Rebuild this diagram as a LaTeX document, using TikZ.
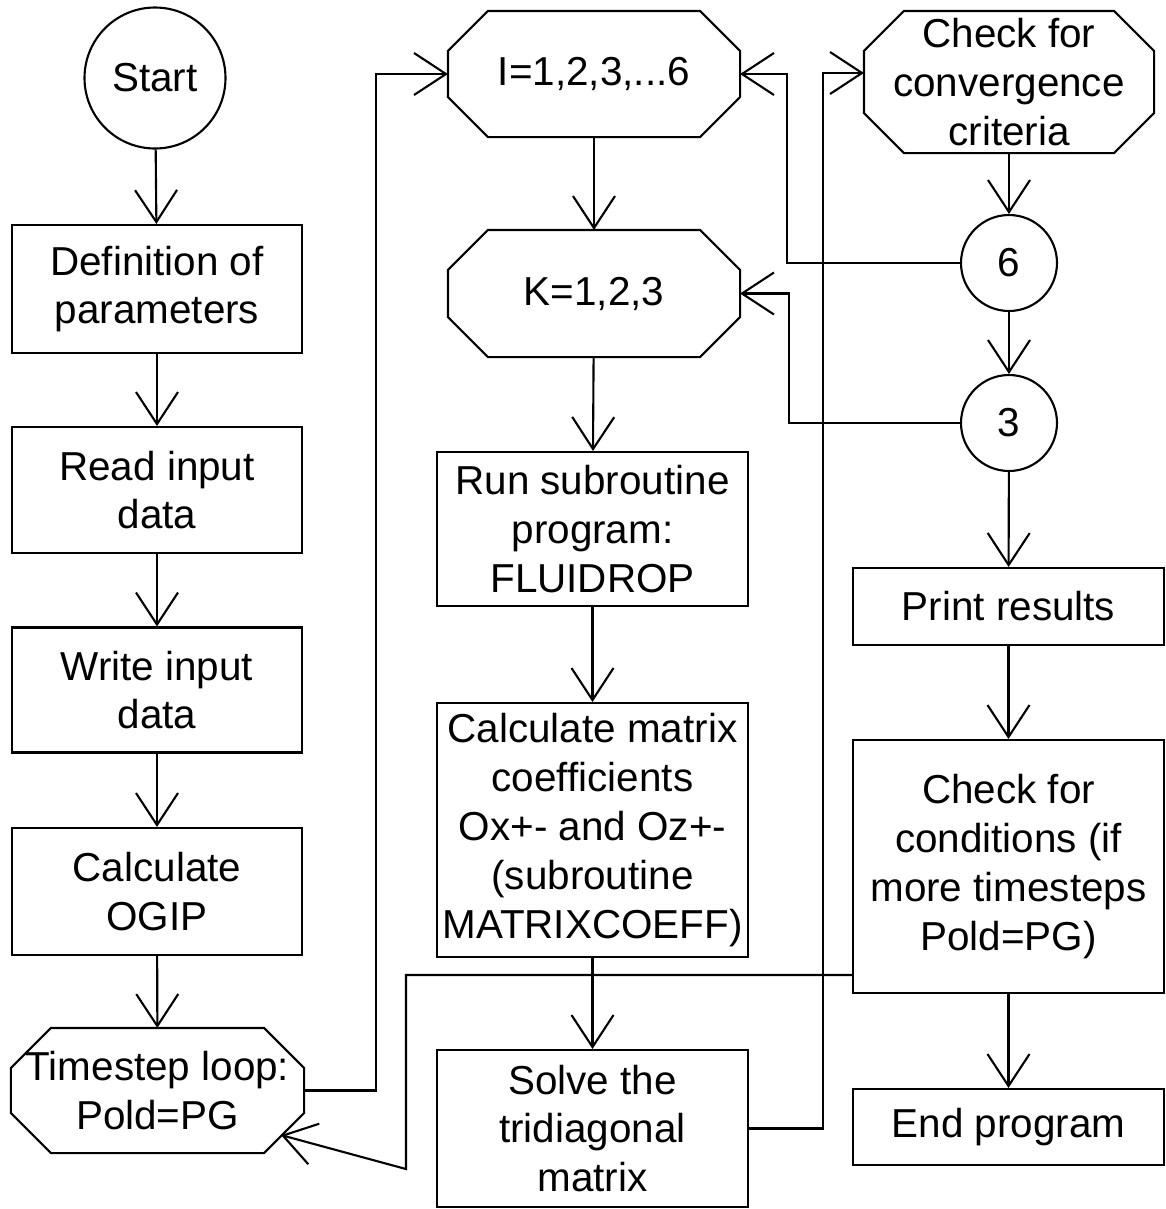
\documentclass[tikz,border=0pt]{standalone}
\usepackage{fontspec}
\setmainfont{Liberation Sans}
\usetikzlibrary{arrows.meta}

\begin{document}
\begin{tikzpicture}[proc_node/.style={rectangle,draw,align=center,inner sep=0pt},loop_node/.style={rectangle,align=center,inner sep=0pt},conn_node/.style={circle,draw,inner sep=0pt},arr/.style={-{Straight Barb[length=3.2mm,width=4.2mm]}},line width=0.6pt,font=\fontsize{11.5}{13.9}\selectfont]

		\useasboundingbox (0,0) rectangle (11.65,-12.09);

		\node[conn_node,minimum size=1.41cm] (start) at (1.55,-0.78) {Start};
		\node[proc_node,minimum width=2.9cm,minimum height=1.28cm] (defn) at (1.57,-2.89) {Definition of\\parameters};
		\node[proc_node,minimum width=2.9cm,minimum height=1.26cm] (read) at (1.57,-4.90) {Read input\\data};
		\node[proc_node,minimum width=2.9cm,minimum height=1.25cm] (write) at (1.57,-6.90) {Write input\\data};
		\node[proc_node,minimum width=2.9cm,minimum height=1.27cm] (ogip) at (1.57,-8.915) {Calculate\\OGIP};
		\node[loop_node,minimum width=2.91cm,minimum height=1.23cm] (tloop) at (1.575,-10.905) {Timestep loop:\\Pold=PG};

		\node[loop_node,minimum width=2.9cm,minimum height=1.24cm] (iloop) at (5.94,-0.74) {I=1,2,3,...6};
		\node[loop_node,minimum width=2.9cm,minimum height=1.25cm] (kloop) at (5.94,-2.935) {K=1,2,3};
		\node[proc_node,minimum width=3.11cm,minimum height=1.54cm] (run) at (5.925,-5.29) {Run subroutine\\program:\\FLUIDROP};
		\node[proc_node,minimum width=3.11cm,minimum height=2.54cm] (matrix) at (5.925,-8.30) {Calculate matrix\\coefficients\\Ox+- and Oz+-\\(subroutine\\MATRIXCOEFF)};
		\node[proc_node,minimum width=3.11cm,minimum height=1.57cm] (solve) at (5.925,-11.285) {Solve the\\tridiagonal\\matrix};

		\node[loop_node,minimum width=2.88cm,minimum height=1.40cm] (conv) at (10.09,-0.82) {Check for\\convergence\\criteria};
		\node[conn_node,minimum size=0.96cm] (six) at (10.09,-2.63) {6};
		\node[conn_node,minimum size=0.96cm] (three) at (10.09,-4.23) {3};
		\node[proc_node,minimum width=3.11cm,minimum height=0.77cm] (print) at (10.085,-6.065) {Print results};
		\node[proc_node,minimum width=3.11cm,minimum height=2.53cm] (cond) at (10.085,-8.665) {Check for\\conditions (if\\more timesteps\\Pold=PG)};
		\node[proc_node,minimum width=3.11cm,minimum height=0.76cm] (endp) at (10.085,-11.27) {End program};

		% octagon outlines of the loop nodes
		\foreach \n in {tloop,iloop,kloop,conv}
			\draw ([xshift=0.4cm]\n.north west) -- ([xshift=-0.4cm]\n.north east) -- ([yshift=-0.4cm]\n.north east) -- ([yshift=0.4cm]\n.south east) -- ([xshift=-0.4cm]\n.south east) -- ([xshift=0.4cm]\n.south west) -- ([yshift=0.4cm]\n.south west) -- ([yshift=-0.4cm]\n.north west) -- cycle;

		\draw[arr] (start) -- (defn);
		\draw[arr] (defn) -- (read);
		\draw[arr] (read) -- (write);
		\draw[arr] (write) -- (ogip);
		\draw[arr] (ogip) -- (tloop);
		\draw[arr] (tloop.east) -- ++(0.72,0) |- (iloop.west);

		\draw[arr] (iloop) -- (kloop);
		\draw[arr] (kloop) -- (run);
		\draw[arr] (run) -- (matrix);
		\draw[arr] (matrix) -- (solve);
		\draw[arr] (solve.east) -- ++(0.74,0) |- ([yshift=0.09cm]conv.west);

		\draw[arr] (conv) -- (six);
		\draw[arr] (six) -- (three);
		\draw[arr] (six.west) -- ++(-1.73,0) |- (iloop.east);
		\draw[arr] (three.west) -- ++(-1.71,0) |- (kloop.east);
		\draw[arr] (three) -- (print);
		\draw[arr] (print) -- (cond);
		\draw[arr] (cond) -- (endp);
		\draw[arr] ([yshift=-1.085cm]cond.west) -| ++(-4.46,-1.94) -- ([shift={(-0.23,0.18)}]tloop.south east);
		\end{tikzpicture}
\end{document}
